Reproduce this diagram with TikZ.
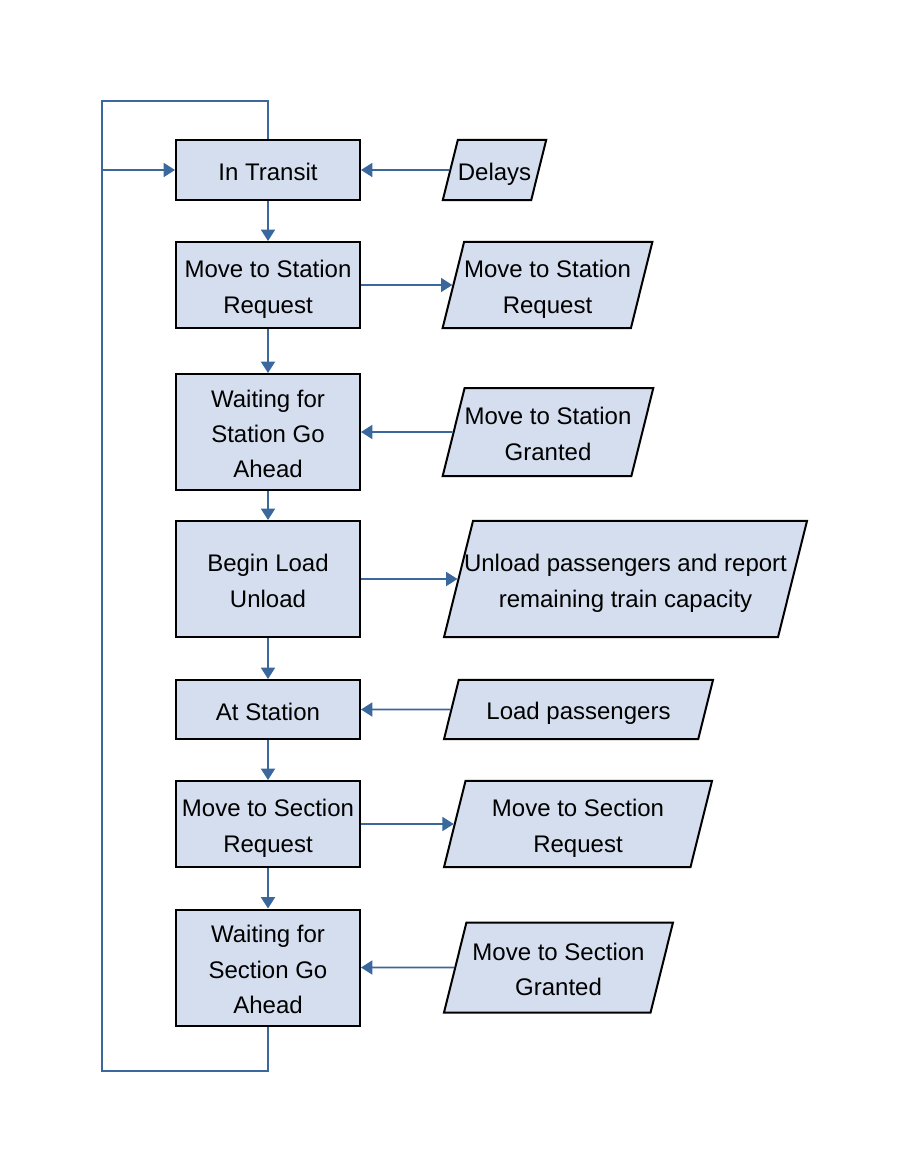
\documentclass[tikz,border=0pt]{standalone}
\usepackage{fontspec}
\setmainfont{Liberation Sans}
\usetikzlibrary{arrows.meta,shapes.geometric}

\tikzset{every picture/.style={line width=0.75pt}}
\tikzset{
  nlines/.style={execute at begin node={\rule[-3.5pt]{0pt}{\dimexpr 22.8pt+26.5pt*\numexpr#1-1\relax\relax}}},
  nlines/.default=1,
  statebox/.style={draw=black, line width=1.5pt, fill={rgb, 255:red, 212; green, 222; blue, 238 }, minimum width=138pt, inner sep=0pt, align=center, font=\fontsize{18}{26.5}\selectfont, nlines},
  iobox/.style={trapezium, trapezium left angle=76, trapezium right angle=104, trapezium stretches body, draw=black, line width=1.5pt, fill={rgb, 255:red, 212; green, 222; blue, 238 }, inner xsep=0pt, align=center, font=\fontsize{18}{26.5}\selectfont, nlines},
  flowline/.style={draw={rgb, 255:red, 59; green, 104; blue, 156 }, line width=1.3pt},
  flow/.style={flowline, -{Triangle[width=10.5pt,length=8.5pt]}}
}

\begin{document}
\begin{tikzpicture}[x=0.75pt,y=0.75pt,yscale=-1,xscale=1]
\useasboundingbox (0,0) rectangle (906,1173);

%Shape: Rectangle [state column]
\node [statebox, minimum height=45pt] (transit) at (268,170) {In Transit};
\node [statebox, nlines=2, minimum height=64.5pt] (stareq) at (268,285) {Move to Station\\Request};
\node [statebox, nlines=3, minimum height=87pt] (waitsta) at (268,432) {Waiting for\\Station Go\\Ahead};
\node [statebox, nlines=2, minimum height=87pt] (loadunload) at (268,579) {Begin Load\\Unload};
\node [statebox, minimum height=44.25pt] (atsta) at (268,709.5) {At Station};
\node [statebox, nlines=2, minimum height=64.5pt] (secreq) at (268,824) {Move to Section\\Request};
\node [statebox, nlines=3, minimum height=87pt] (waitsec) at (268,967.5) {Waiting for\\Section Go\\Ahead};

%Shape: Parallelogram [input / output column]
\node [iobox, inner ysep=11.1pt, minimum width=75.75pt, minimum height=45pt] (delays) at (494.5,170) {Delays};
\node [iobox, nlines=2, inner ysep=7.6pt, minimum width=155.25pt, minimum height=64.5pt] (stareqio) at (547.5,285) {Move to Station\\Request};
\node [iobox, nlines=2, inner ysep=8.35pt, minimum width=156pt, minimum height=66pt] (stagrant) at (548,432) {Move to Station\\Granted};
\node [iobox, nlines=2, inner ysep=18.85pt, minimum width=272.25pt, minimum height=87pt] (unloadio) at (625.5,579) {\makebox[220pt]{Unload passengers and report}\\\makebox[220pt]{remaining train capacity}};
\node [iobox, inner ysep=10.7pt, minimum width=201.75pt, minimum height=44.25pt] (loadio) at (578.5,709.5) {Load passengers};
\node [iobox, nlines=2, inner ysep=7.6pt, minimum width=201pt, minimum height=64.5pt] (secreqio) at (578,824) {Move to Section\\Request};
\node [iobox, nlines=2, inner ysep=9.1pt, minimum width=171.75pt, minimum height=67.5pt] (secgrant) at (558.5,967.5) {Move to Section\\Granted};

%Straight Lines [down the column]
\draw [flow] (transit) -- (stareq);
\draw [flow] (stareq) -- (waitsta);
\draw [flow] (waitsta) -- (loadunload);
\draw [flow] (loadunload) -- (atsta);
\draw [flow] (atsta) -- (secreq);
\draw [flow] (secreq) -- (waitsec);

%Straight Lines [across]
\draw [flow] (delays) -- (transit);
\draw [flow] (stareq) -- (stareqio);
\draw [flow] (stagrant) -- (waitsta);
\draw [flow] (loadunload) -- (unloadio);
\draw [flow] (loadio) -- (atsta);
\draw [flow] (secreq) -- (secreqio);
\draw [flow] (secgrant) -- (waitsec);

%Straight Lines [loop back]
\coordinate (loopbl) at (102,1071);
\coordinate (looptl) at (102,101);
\coordinate (loopin) at (102,170);
\draw [flowline] (waitsec.south) |- (loopbl) -- (looptl) -| (transit.north);
\draw [flow] (loopin) -- (transit);

\end{tikzpicture}
\end{document}
